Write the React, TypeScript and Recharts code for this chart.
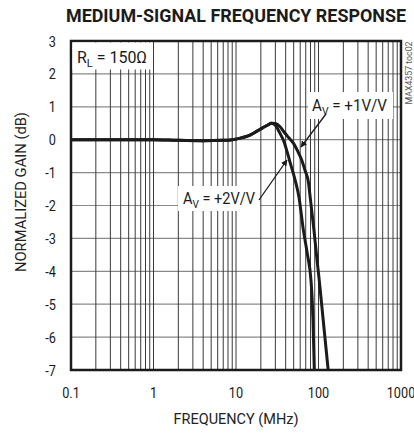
import React from "react";
import {
  LineChart,
  Line,
  XAxis,
  YAxis,
  CartesianGrid,
  ReferenceArea,
} from "recharts";

// frequency (MHz) / normalized gain (dB)
const sharedFreq = [0.1, 0.2, 0.5, 1, 2, 4, 7, 9, 11, 13, 15, 18, 21, 24, 27];
const sharedGain = [0, 0, 0, 0, -0.02, -0.03, -0.02, 0, 0.04, 0.09, 0.15, 0.26, 0.36, 0.44, 0.5];

const av1Freq = [30, 34, 38, 44, 50, 56, 62.5, 69, 75, 80, 88, 95, 102, 114, 124, 131];
const av1Gain = [0.49, 0.4, 0.24, 0.05, -0.12, -0.35, -0.62, -0.95, -1.25, -1.83, -2.74, -3.55, -4.26, -5.48, -6.4, -7];

const av2Freq = [30, 34, 38, 41, 46, 52, 58, 65.5, 73.6, 81, 84, 85.7, 87.5, 88.9];
const av2Gain = [0.44, 0.2, -0.05, -0.31, -0.75, -1.22, -1.75, -2.74, -3.5, -4.26, -4.9, -5.48, -6.3, -7];

const decades = [0.1, 1, 10, 100, 1000];
const gainTicks = [-7, -6, -5, -4, -3, -2, -1, 0, 1, 2, 3];

// log grid: 1..9 of every decade
const gridFreqs: number[] = [];
decades.slice(0, -1).forEach((d) => {
  for (let k = 1; k < 10; k++) gridFreqs.push(+(d * k).toPrecision(3));
});
gridFreqs.push(1000);

const toRows = (f: number[], g: number[]) => f.map((freq, i) => ({ freq, gain: g[i] }));
const av1Data = [...toRows(sharedFreq, sharedGain), ...toRows(av1Freq, av1Gain)];
const av2Data = [...toRows(sharedFreq, sharedGain), ...toRows(av2Freq, av2Gain)];

const W = 414;
const H = 435;
const font = "Roboto, 'Liberation Sans', sans-serif";
const ink = "#1b1b1b";

// condensed-looking tick labels
const XTick = ({ x, y, payload }: any) => {
  if (!decades.includes(payload.value)) return null;
  return (
    <text
      transform={`translate(${x},${y + 18}) scale(0.82,1)`}
      textAnchor="middle"
      fontFamily={font}
      fontSize={15.5}
      fill={ink}
    >
      {payload.value}
    </text>
  );
};

const YTick = ({ x, y, payload }: any) => (
  <text
    transform={`translate(${x},${y + 5.5}) scale(0.82,1)`}
    textAnchor="end"
    fontFamily={font}
    fontSize={15.5}
    fill={ink}
  >
    {payload.value}
  </text>
);

export default function App() {
  return (
    <div style={{ position: "absolute", left: 0, top: 0, width: W, height: H, background: "#fff" }}>
      <LineChart
        width={W}
        height={H}
        margin={{ top: 41, right: 13, bottom: 35, left: 41 }}
      >
        <CartesianGrid vertical={false} stroke="#8a8a8a" strokeWidth={1.2} />
        <CartesianGrid horizontal={false} stroke="#3a3a3a" strokeWidth={1} />
        <XAxis
          dataKey="freq"
          type="number"
          scale="log"
          domain={[0.1, 1000]}
          ticks={gridFreqs}
          interval={0}
          allowDataOverflow
          axisLine={false}
          tickLine={false}
          tickSize={0}
          tickMargin={10}
          height={30}
          tick={<XTick />}
        />
        <YAxis
          type="number"
          domain={[-7, 3]}
          ticks={gainTicks}
          interval={0}
          allowDataOverflow
          axisLine={false}
          tickLine={false}
          tickSize={0}
          tickMargin={15}
          width={30}
          tick={<YTick />}
        />
        <Line
          data={av1Data}
          dataKey="gain"
          type="monotone"
          stroke={ink}
          strokeWidth={3}
          dot={false}
          isAnimationActive={false}
        />
        <Line
          data={av2Data}
          dataKey="gain"
          type="monotone"
          stroke={ink}
          strokeWidth={3}
          dot={false}
          isAnimationActive={false}
        />
        <ReferenceArea x1={0.1} x2={1000} y1={-7} y2={3} fill="none" stroke={ink} strokeWidth={2.5} />
      </LineChart>

      {/* titles and callouts */}
      <svg width={W} height={H} style={{ position: "absolute", left: 0, top: 0, pointerEvents: "none" }}>
        <defs>
          <marker id="arrow" viewBox="0 0 10 10" refX="9" refY="5" markerWidth="5" markerHeight="5" orient="auto">
            <path d="M0,0 L10,5 L0,10 z" fill={ink} />
          </marker>
        </defs>
        <text
          x={236}
          y={22}
          textAnchor="middle"
          fontFamily={font}
          fontWeight="bold"
          fontSize={18}
          fill={ink}
          textLength={340}
          lengthAdjust="spacingAndGlyphs"
        >
          MEDIUM-SIGNAL FREQUENCY RESPONSE
        </text>
        <text
          x={236}
          y={424}
          textAnchor="middle"
          fontFamily={font}
          fontSize={14.5}
          fill="#222"
          textLength={125}
          lengthAdjust="spacingAndGlyphs"
        >
          FREQUENCY (MHz)
        </text>
        <text
          transform="translate(26,192) rotate(-90)"
          textAnchor="middle"
          fontFamily={font}
          fontSize={14.5}
          fill="#222"
          textLength={160}
          lengthAdjust="spacingAndGlyphs"
        >
          NORMALIZED GAIN (dB)
        </text>
        <text
          transform="translate(412,73) rotate(-90)"
          textAnchor="middle"
          fontFamily={font}
          fontSize={9.5}
          fill="#555"
          textLength={63}
          lengthAdjust="spacingAndGlyphs"
        >
          MAX4357 toc02
        </text>

        <rect x={72.5} y={42.5} width={80} height={27} fill="#fff" />
        <text x={77} y={63} fontFamily={font} fontSize={16} fill={ink} textLength={70} lengthAdjust="spacingAndGlyphs">
          R<tspan fontSize={11} dy={4}>L</tspan>
          <tspan dy={-4}> = 150Ω</tspan>
        </text>

        <rect x={308} y={92} width={85} height={27} fill="#fff" />
        <text x={312} y={111} fontFamily={font} fontSize={16} fill={ink} textLength={75} lengthAdjust="spacingAndGlyphs">
          A<tspan fontSize={11} dy={4}>V</tspan>
          <tspan dy={-4}> = +1V/V</tspan>
        </text>
        <line x1={326} y1={114} x2={301} y2={147} stroke={ink} strokeWidth={1.3} markerEnd="url(#arrow)" />

        <rect x={178} y={186} width={82} height={25} fill="#fff" />
        <text x={183} y={204} fontFamily={font} fontSize={16} fill={ink} textLength={72} lengthAdjust="spacingAndGlyphs">
          A<tspan fontSize={11} dy={4}>V</tspan>
          <tspan dy={-4}> = +2V/V</tspan>
        </text>
        <line x1={259} y1={200} x2={287} y2={160} stroke={ink} strokeWidth={1.3} markerEnd="url(#arrow)" />
      </svg>
    </div>
  );
}
